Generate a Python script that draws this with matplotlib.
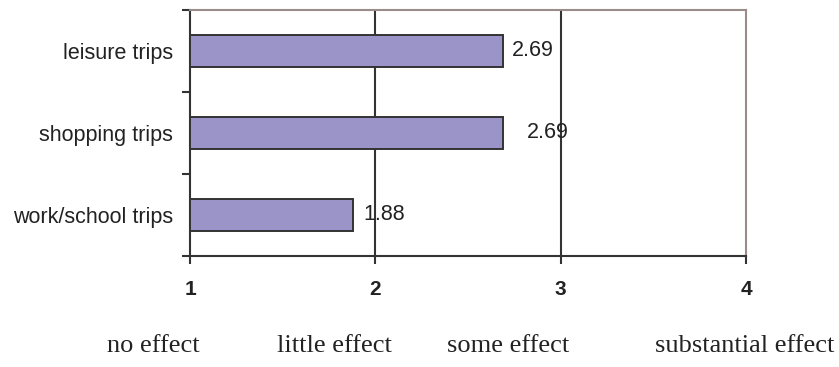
import matplotlib.pyplot as plt

# trip purposes, bottom to top
categories = ['work/school trips', 'shopping trips', 'leisure trips']
scores = [1.88, 2.69, 2.69]
label_pad = [10, 24, 9]  # pixel gap between bar end and its value label

scale_ticks = [1, 2, 3, 4]
scale_names = ['no effect', 'little effect', 'some effect', 'substantial effect']
scale_name_x = [153, 334, 508, 745]

fig = plt.figure(figsize=(8.39, 3.67), dpi=100)
ax = fig.add_axes([190 / 839, 1 - 256 / 367, 556 / 839, 246 / 367])

dark = '#333333'
ax.barh(range(len(categories)), [s - 1 for s in scores], left=1, height=0.4,
        color='#9b94c8', edgecolor=dark, linewidth=1.4, zorder=3)

for i, (s, pad) in enumerate(zip(scores, label_pad)):
    ax.annotate(f'{s:.2f}', (s, i), xytext=(pad * 0.72, 0), textcoords='offset points',
                va='center', ha='left', fontsize=15.5, color='#222222',
                family=['Liberation Sans', 'DejaVu Sans'], zorder=4)

ax.set_xlim(1, 4)
ax.set_ylim(-0.5, 2.5)

for x in (2, 3):
    ax.axvline(x, color=dark, linewidth=1.5, zorder=2)

ax.set_xticks(scale_ticks)
ax.set_xticklabels([str(t) for t in scale_ticks], fontsize=15, fontweight='bold',
                   family=['Liberation Sans Narrow', 'Liberation Sans', 'DejaVu Sans'],
                   color='#222222')
ax.tick_params(axis='x', length=6, width=1.5, color=dark, pad=11)

ax.set_yticks([-0.5, 0.5, 1.5, 2.5], minor=False)
ax.set_yticklabels([])
ax.set_yticks(range(len(categories)), minor=True)
ax.set_yticklabels(categories, minor=True, fontsize=15.5, color='#222222',
                   family=['Liberation Sans', 'DejaVu Sans'])
ax.tick_params(axis='y', which='major', length=6, width=1.5, color=dark)
ax.tick_params(axis='y', which='minor', length=0, pad=12)

for side in ('left', 'bottom'):
    ax.spines[side].set_color(dark)
    ax.spines[side].set_linewidth(1.5)
for side in ('top', 'right'):
    ax.spines[side].set_color('#9a8c8a')
    ax.spines[side].set_linewidth(1.5)

for name, x in zip(scale_names, scale_name_x):
    fig.text(x / 839, 1 - 346 / 367, name, ha='center', va='center', fontsize=19,
             family=['Liberation Serif', 'DejaVu Serif'], color='#222222')

fig.savefig('out.png', dpi=100)
